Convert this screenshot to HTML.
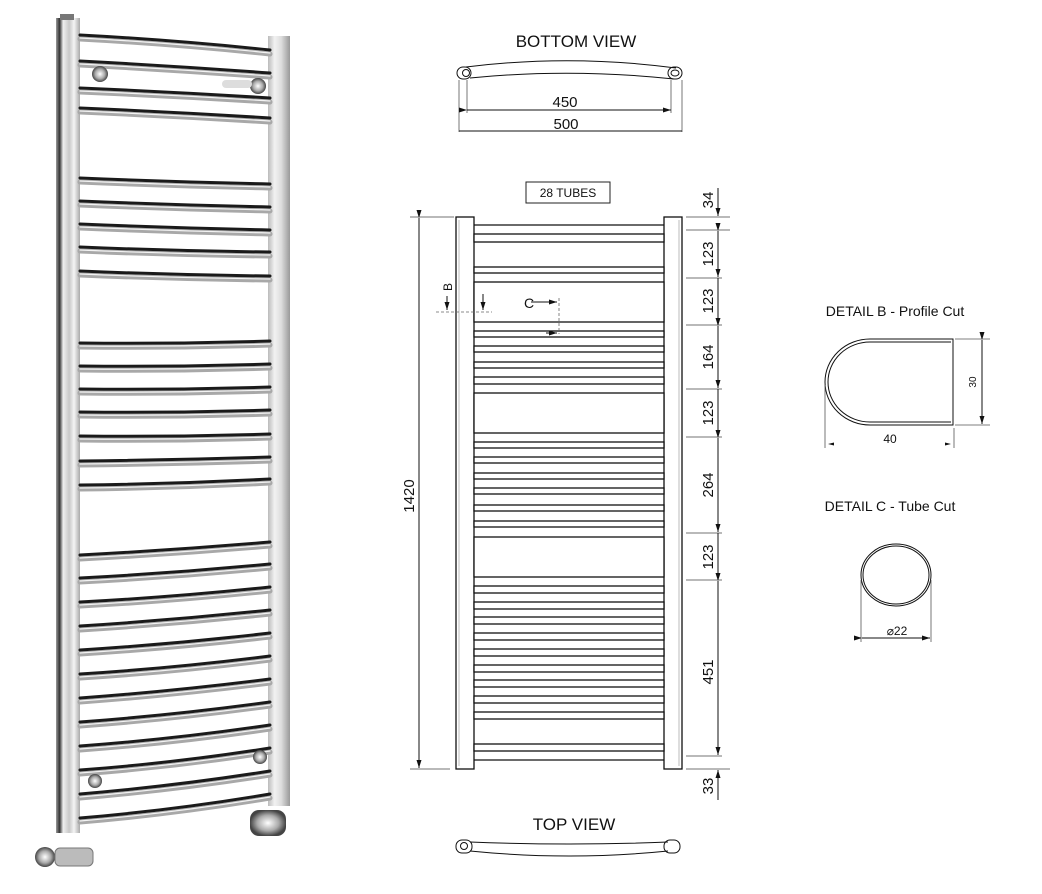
<!DOCTYPE html>
<html><head><meta charset="utf-8"><style>
html,body{margin:0;padding:0;background:#fff;}
svg{display:block;}
text{font-family:"Liberation Sans","DejaVu Sans",sans-serif;fill:#111;}
</style></head><body>
<svg width="1042" height="894" viewBox="0 0 1042 894" xmlns="http://www.w3.org/2000/svg">
<defs>
<linearGradient id="rail" x1="0" x2="1" y1="0" y2="0">
<stop offset="0" stop-color="#9a9a9a"/><stop offset="0.15" stop-color="#333"/><stop offset="0.3" stop-color="#eee"/><stop offset="0.55" stop-color="#c8c8c8"/><stop offset="0.75" stop-color="#f4f4f4"/><stop offset="1" stop-color="#aaa"/></linearGradient>
<linearGradient id="rail2" x1="0" x2="1" y1="0" y2="0">
<stop offset="0" stop-color="#bbb"/><stop offset="0.3" stop-color="#f2f2f2"/><stop offset="0.6" stop-color="#ddd"/><stop offset="1" stop-color="#999"/></linearGradient>
<radialGradient id="knob"><stop offset="0" stop-color="#fff"/><stop offset="0.6" stop-color="#aaa"/><stop offset="1" stop-color="#444"/></radialGradient>
<marker id="ar" markerWidth="8" markerHeight="6" refX="8" refY="3" orient="auto" markerUnits="userSpaceOnUse"><path d="M0,0.5 L8,3 L0,5.5z" fill="#111"/></marker>
<g id="bars">
<path d="M80,35 Q175,40 270,50"/><path d="M80,61 Q175,66 270,73"/><path d="M80,88 Q175,92 270,98"/><path d="M80,108 Q175,112 270,118"/>
<path d="M80,178 Q175,182 270,184"/><path d="M80,201 Q175,205 270,207"/><path d="M80,224 Q175,228 270,230"/><path d="M80,247 Q175,251 270,252"/><path d="M80,271 Q175,275 270,276"/>
<path d="M80,343 Q175,344 270,341"/><path d="M80,366 Q175,367 270,364"/><path d="M80,389 Q175,390 270,387"/><path d="M80,412 Q175,413 270,410"/><path d="M80,436 Q175,437 270,434"/><path d="M80,461 Q175,460 270,457"/><path d="M80,485 Q175,484 270,479"/>
<path d="M80,555 Q175,550 270,542"/><path d="M80,578 Q175,573 270,564"/><path d="M80,602 Q175,597 270,587"/><path d="M80,626 Q175,620 270,610"/><path d="M80,650 Q175,644 270,633"/><path d="M80,674 Q175,668 270,656"/><path d="M80,698 Q175,691 270,679"/><path d="M80,722 Q175,715 270,702"/><path d="M80,746 Q175,739 270,725"/><path d="M80,770 Q175,763 270,748"/><path d="M80,794 Q175,786 270,771"/><path d="M80,818 Q175,810 270,794"/>
</g>
</defs>

<!-- PHOTO -->
<g id="photo">
<rect x="56" y="18" width="24" height="815" fill="url(#rail)"/>
<rect x="60" y="14" width="14" height="6" fill="#777"/>
<rect x="268" y="36" width="22" height="770" fill="url(#rail2)"/>
<g fill="none" stroke-linecap="round">
<use href="#bars" stroke="#a8a8a8" stroke-width="5" transform="translate(0,4)"/>
<use href="#bars" stroke="#1a1a1a" stroke-width="3"/>
<use href="#bars" stroke="#f2f2f2" stroke-width="1.2" transform="translate(0,3)"/>
</g>
<circle cx="100" cy="74" r="8" fill="url(#knob)"/><circle cx="258" cy="86" r="8" fill="url(#knob)"/><rect x="222" y="80" width="30" height="8" rx="4" fill="#ddd"/>
<circle cx="95" cy="781" r="7" fill="url(#knob)"/><circle cx="260" cy="757" r="7" fill="url(#knob)"/>
<circle cx="45" cy="857" r="10" fill="url(#knob)"/><rect x="55" y="848" width="38" height="18" rx="5" fill="#bbb" stroke="#777"/>
<rect x="250" y="810" width="36" height="26" rx="9" fill="url(#knob)"/>
</g>

<!-- BOTTOM VIEW -->
<text x="576" y="47" font-size="17" text-anchor="middle">BOTTOM VIEW</text>
<g fill="none" stroke="#111" stroke-width="1">
<path d="M466,67 Q570,54 676,68"/><path d="M470,78 Q570,68 674,79"/>
<rect x="457" y="67" width="14" height="12" rx="6"/><circle cx="466" cy="73" r="3.5"/>
<rect x="668" y="67" width="14" height="12" rx="6"/><ellipse cx="675" cy="73" rx="4" ry="3"/>
<g stroke="#555" stroke-width="0.8"><line x1="467" y1="80" x2="467" y2="113"/><line x1="671" y1="80" x2="671" y2="113"/><line x1="459" y1="80" x2="459" y2="132"/><line x1="682" y1="80" x2="682" y2="132"/></g>
<line x1="467" y1="110" x2="671" y2="110" marker-end="url(#ar)" marker-start="url(#ar)"/>
<line x1="459" y1="131" x2="682" y2="131"/>
</g>
<text x="565" y="107" font-size="15" text-anchor="middle">450</text>
<text x="566" y="129" font-size="15" text-anchor="middle">500</text>

<!-- 28 TUBES -->
<rect x="526" y="182" width="84" height="21" fill="#fff" stroke="#222" stroke-width="1"/>
<text x="568" y="197" font-size="12" text-anchor="middle">28 TUBES</text>

<!-- FRONT VIEW -->
<g stroke="#111" stroke-width="1.3" fill="#fff">
<rect x="456" y="217" width="18" height="552"/>
<rect x="664" y="217" width="18" height="552"/>
<line x1="459" y1="220" x2="459" y2="766" stroke="#aaa" stroke-width="0.8"/>
<line x1="679" y1="220" x2="679" y2="766" stroke="#aaa" stroke-width="0.8"/>
<line x1="474" y1="225" x2="664" y2="225"/>
<rect x="474" y="234" width="190" height="8"/>
<rect x="474" y="267" width="190" height="6"/>
<rect x="474" y="282" width="190" height="40"/>
<rect x="474" y="331" width="190" height="6"/>
<rect x="474" y="346" width="190" height="6"/>
<rect x="474" y="362" width="190" height="6"/>
<rect x="474" y="377" width="190" height="7"/>
<rect x="474" y="393" width="190" height="40"/>
<rect x="474" y="442" width="190" height="6"/>
<rect x="474" y="457" width="190" height="6"/>
<rect x="474" y="473" width="190" height="6"/>
<rect x="474" y="488" width="190" height="6"/>
<rect x="474" y="505" width="190" height="6"/>
<rect x="474" y="521" width="190" height="6"/>
<rect x="474" y="537" width="190" height="40"/>
<rect x="474" y="586" width="190" height="7"/>
<rect x="474" y="602" width="190" height="7"/>
<rect x="474" y="617" width="190" height="7"/>
<rect x="474" y="633" width="190" height="7"/>
<rect x="474" y="649" width="190" height="7"/>
<rect x="474" y="665" width="190" height="7"/>
<rect x="474" y="680" width="190" height="7"/>
<rect x="474" y="696" width="190" height="7"/>
<rect x="474" y="712" width="190" height="7"/>
<rect x="474" y="744" width="190" height="7"/>
<line x1="474" y1="760" x2="664" y2="760"/>
</g>
<!-- section marks -->
<g stroke="#666" stroke-width="0.8" fill="none" stroke-dasharray="3,2">
<line x1="436" y1="312" x2="492" y2="312"/><line x1="559" y1="298" x2="559" y2="334"/>
</g>
<g stroke="#111" stroke-width="1">
<line x1="447" y1="296" x2="447" y2="310" marker-end="url(#ar)"/>
<line x1="483" y1="294" x2="483" y2="310" marker-end="url(#ar)"/>
<line x1="531" y1="302" x2="557" y2="302" marker-end="url(#ar)"/>
<line x1="546" y1="333" x2="557" y2="333" marker-end="url(#ar)"/>
</g>
<text x="452" y="287" font-size="12" transform="rotate(-90 452 287)" text-anchor="middle">B</text>
<text x="524" y="308" font-size="14">C</text>

<!-- left 1420 -->
<g stroke="#444" stroke-width="0.8">
<line x1="410" y1="217" x2="454" y2="217"/><line x1="410" y1="769" x2="450" y2="769"/>
</g>
<line x1="419" y1="218" x2="419" y2="768" stroke="#111" stroke-width="1" marker-start="url(#ar)" marker-end="url(#ar)"/>
<text x="414" y="496" font-size="15" transform="rotate(-90 414 496)" text-anchor="middle">1420</text>

<!-- right dims -->
<g stroke="#444" stroke-width="0.8">
<line x1="686" y1="217" x2="730" y2="217"/><line x1="686" y1="230" x2="730" y2="230"/>
<line x1="686" y1="278" x2="722" y2="278"/><line x1="686" y1="325" x2="722" y2="325"/>
<line x1="686" y1="389" x2="722" y2="389"/><line x1="686" y1="437" x2="722" y2="437"/>
<line x1="686" y1="533" x2="722" y2="533"/><line x1="686" y1="580" x2="722" y2="580"/>
<line x1="686" y1="756" x2="722" y2="756"/><line x1="686" y1="769" x2="730" y2="769"/>
</g>
<g stroke="#111" stroke-width="1">
<line x1="718" y1="188" x2="718" y2="216" marker-end="url(#ar)"/>
<line x1="718" y1="231" x2="718" y2="277" marker-start="url(#ar)" marker-end="url(#ar)"/>
<line x1="718" y1="278" x2="718" y2="325"/>
<line x1="718" y1="326" x2="718" y2="388" marker-start="url(#ar)" marker-end="url(#ar)"/>
<line x1="718" y1="389" x2="718" y2="437"/>
<line x1="718" y1="438" x2="718" y2="532" marker-start="url(#ar)" marker-end="url(#ar)"/>
<line x1="718" y1="533" x2="718" y2="580"/>
<line x1="718" y1="581" x2="718" y2="755" marker-start="url(#ar)" marker-end="url(#ar)"/>
<line x1="718" y1="800" x2="718" y2="770" marker-end="url(#ar)"/>
</g>
<g font-size="15" text-anchor="middle">
<text x="713" y="200" transform="rotate(-90 713 200)">34</text>
<text x="713" y="254" transform="rotate(-90 713 254)">123</text>
<text x="713" y="301" transform="rotate(-90 713 301)">123</text>
<text x="713" y="357" transform="rotate(-90 713 357)">164</text>
<text x="713" y="413" transform="rotate(-90 713 413)">123</text>
<text x="713" y="485" transform="rotate(-90 713 485)">264</text>
<text x="713" y="557" transform="rotate(-90 713 557)">123</text>
<text x="713" y="672" transform="rotate(-90 713 672)">451</text>
<text x="713" y="786" transform="rotate(-90 713 786)">33</text>
</g>

<!-- TOP VIEW -->
<text x="574" y="830" font-size="17" text-anchor="middle">TOP VIEW</text>
<g fill="none" stroke="#111" stroke-width="1">
<path d="M470,842 Q570,846 668,842"/><path d="M470,851 Q570,861 668,851"/>
<rect x="456" y="840" width="16" height="13" rx="6"/><circle cx="464" cy="846" r="3.5"/>
<rect x="664" y="840" width="16" height="13" rx="6"/>
</g>

<!-- DETAIL B -->
<text x="895" y="316" font-size="14" text-anchor="middle">DETAIL B - Profile Cut</text>
<g fill="none" stroke="#111" stroke-width="1">
<path d="M953,339 L870,339 A45,43 0 0 0 870,425 L953,425 Z"/>
<path d="M951,342 L870,342 A42,40 0 0 0 870,422 L951,422"/>
<g stroke="#555" stroke-width="0.8"><line x1="955" y1="339" x2="990" y2="339"/><line x1="955" y1="425" x2="990" y2="425"/><line x1="825" y1="385" x2="825" y2="448"/><line x1="954" y1="428" x2="954" y2="448"/></g>
<line x1="982" y1="340" x2="982" y2="424" marker-start="url(#ar)" marker-end="url(#ar)"/>
</g>
<path d="M828,444 l6,-1.5 v3z M951,444 l-6,-1.5 v3z" fill="#111"/>
<text x="976" y="382" font-size="10" transform="rotate(-90 976 382)" text-anchor="middle">30</text>
<text x="890" y="443" font-size="12" text-anchor="middle">40</text>

<!-- DETAIL C -->
<text x="890" y="511" font-size="14" text-anchor="middle">DETAIL C - Tube Cut</text>
<g fill="none" stroke="#111" stroke-width="1">
<ellipse cx="896" cy="575" rx="35" ry="31"/>
<ellipse cx="896" cy="575" rx="33" ry="29"/>
<g stroke="#555" stroke-width="0.8"><line x1="861" y1="580" x2="861" y2="642"/><line x1="931" y1="580" x2="931" y2="642"/></g>
<line x1="862" y1="638" x2="930" y2="638" marker-start="url(#ar)" marker-end="url(#ar)"/>
</g>
<text x="897" y="635" font-size="12" text-anchor="middle">⌀22</text>
</svg>
</body></html>
